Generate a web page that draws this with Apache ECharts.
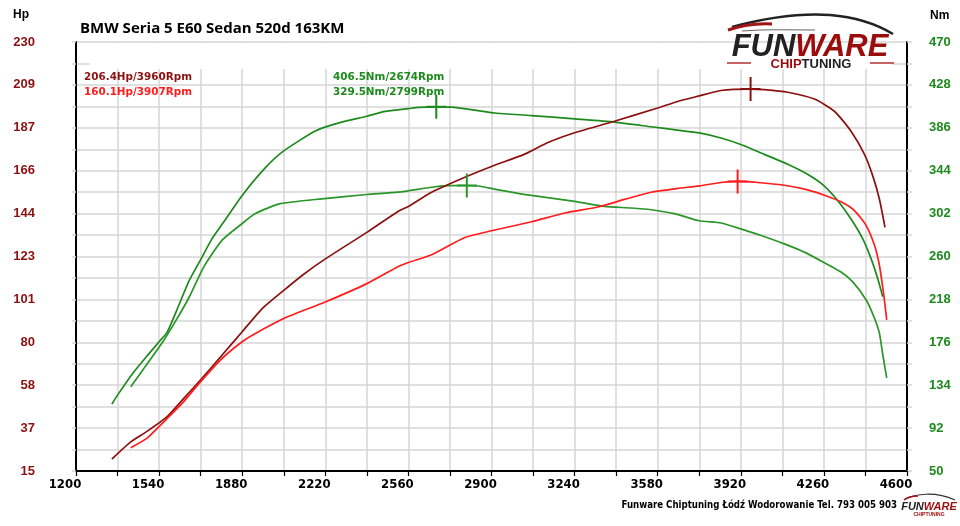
<!DOCTYPE html>
<html>
<head>
<meta charset="utf-8">
<script src="https://cdn.jsdelivr.net/npm/echarts@6/dist/echarts.min.js"></script>
<style>
html,body{margin:0;padding:0;background:#fff;}
#chart{width:960px;height:526px;}
</style>
</head>
<body>
<div id="chart"></div>
<script>
// ---- data ----
const title = 'BMW Seria 5 E60 Sedan 520d 163KM';
const footer = 'Funware Chiptuning Łódź Wodorowanie Tel. 793 005 903';

const rpmTicks = [1200, 1540, 1880, 2220, 2560, 2900, 3240, 3580, 3920, 4260, 4600];
const hpTicks = [15, 37, 58, 80, 101, 123, 144, 166, 187, 209, 230];
const nmTicks = [50, 92, 134, 176, 218, 260, 302, 344, 386, 428, 470];

const tunedHpRpm = [1347, 1424, 1492, 1574, 1642, 1710, 1798, 1880, 1962, 2050, 2125, 2220, 2390, 2519, 2560, 2655, 2791, 2900, 3036, 3131, 3240, 3403, 3580, 3661, 3750, 3839, 3960, 4016, 4112, 4221, 4303, 4371, 4426, 4460, 4487, 4510];
const tunedHp = [21, 29.6, 35, 42.4, 51.5, 60.7, 73.1, 84.8, 96.4, 105.5, 113, 121.3, 134.6, 145.2, 147.6, 154.7, 162.2, 167.6, 173.8, 179.6, 184.5, 190.3, 196.9, 200.2, 203, 205.7, 206.4, 206.1, 204.8, 201.4, 195.3, 185.3, 173.7, 162.9, 151.3, 137.1];

const stockHpRpm = [1424, 1492, 1554, 1635, 1710, 1798, 1880, 1934, 2050, 2220, 2390, 2519, 2560, 2655, 2791, 2900, 3063, 3199, 3335, 3444, 3553, 3661, 3750, 3839, 3907, 3989, 4098, 4193, 4262, 4330, 4385, 4433, 4467, 4487, 4505, 4517];
const stockHp = [26.6, 31.6, 39, 49, 59.8, 71.5, 79.8, 83.9, 91.4, 99.7, 108.9, 117.5, 119.5, 123.4, 132, 135.4, 139.9, 144.3, 147.3, 151.1, 154.7, 156.6, 157.9, 159.6, 160.1, 159.6, 158.2, 155.9, 153.2, 149.9, 145.5, 138, 128.1, 118.1, 103.2, 90.7];

const tunedNmRpm = [1347, 1370, 1431, 1492, 1540, 1574, 1622, 1662, 1710, 1758, 1805, 1880, 1975, 2050, 2179, 2261, 2390, 2465, 2560, 2601, 2674, 2737, 2818, 2914, 3063, 3240, 3403, 3553, 3661, 3750, 3839, 3920, 4016, 4112, 4193, 4262, 4317, 4371, 4419, 4453, 4480, 4501];
const tunedNm = [115.6, 124.3, 145.3, 163, 176.6, 186.3, 213, 236, 257, 278, 294, 319.8, 347, 363.4, 382.8, 389.9, 397.3, 402, 404.7, 406, 406.5, 406.2, 403.8, 400.5, 398, 394.7, 391.5, 387, 383.7, 381, 376, 369.6, 360, 350.3, 340.5, 329, 314.6, 296.7, 277.3, 257.9, 238.4, 220.6];

const stockNmRpm = [1424, 1472, 1554, 1608, 1662, 1724, 1798, 1880, 1934, 2036, 2206, 2390, 2519, 2655, 2723, 2799, 2846, 2927, 3063, 3240, 3362, 3471, 3553, 3648, 3750, 3839, 3920, 4003, 4098, 4180, 4262, 4330, 4378, 4433, 4467, 4487, 4501, 4517];
const stockNm = [132.4, 148.5, 176, 197, 219.6, 250.3, 276, 292.3, 302, 311.7, 316.5, 320.7, 323, 327.8, 329.3, 329.5, 329, 325.3, 319.8, 314, 309, 307.5, 305.8, 302, 295, 292.8, 287, 280.6, 272.4, 264.3, 253.9, 244.8, 235.2, 217.4, 199.5, 185, 163.8, 141.1];

const peakTunedHp = {val: 206.4, rpm: 3960};
const peakStockHp = {val: 160.1, rpm: 3907};
const peakTunedNm = {val: 406.5, rpm: 2674};
const peakStockNm = {val: 329.5, rpm: 2799};

// ---- styles ----
const C_DARKRED = '#8b1111';
const C_RED = '#ff1c1c';
const C_GREEN1 = '#1d8a1d';
const C_GREEN2 = '#2a962a';
const GRID_C = '#d6d6d6';
const NARROW = '"DejaVu Sans Condensed", "Liberation Sans", sans-serif';
const crossPath = 'path://M9,0 h2 v24 h-2 z M0,11 h20 v2 h-20 z';

function pairs(xs, ys) { return xs.map((x, i) => [x, ys[i]]); }

function lineSeries(name, xs, ys, yIdx, color, peak) {
  return {
    name: name, type: 'line', xAxisIndex: 0, yAxisIndex: yIdx,
    data: pairs(xs, ys), showSymbol: false, smooth: 0.2,
    lineStyle: {color: color, width: 1.7}, itemStyle: {color: color},
    z: 3,
    markPoint: {
      symbol: crossPath, symbolSize: [20, 24], silent: true,
      itemStyle: {color: color},
      label: {show: false},
      data: [{coord: [peak.rpm, peak.val]}]
    }
  };
}

function curve(x1, y1, cx1, cy1, cx2, cy2, x2, y2, color, w) {
  return {type: 'bezierCurve', z: 5, silent: true,
    shape: {x1: x1, y1: y1, cpx1: cx1, cpy1: cy1, cpx2: cx2, cpy2: cy2, x2: x2, y2: y2},
    style: {fill: null, stroke: color, lineWidth: w}};
}

const chart = echarts.init(document.getElementById('chart'), null, {renderer: 'canvas'});
const nX = (rpmTicks.length - 1) * 2;
const nY = (hpTicks.length - 1) * 2;

chart.setOption({
  animation: false,
  backgroundColor: '#ffffff',
  grid: {left: 76, right: 53, top: 42, bottom: 55},
  xAxis: [
    {type: 'value', min: rpmTicks[0], max: rpmTicks[rpmTicks.length - 1], show: false},
    {type: 'value', min: 0, max: nX, interval: 1, position: 'bottom',
     axisLine: {show: true, onZero: false, lineStyle: {color: '#000', width: 2}},
     axisTick: {show: true, length: 5, lineStyle: {color: '#000', width: 1.2}},
     splitLine: {show: true, lineStyle: {color: GRID_C, width: 1.5}},
     axisLabel: {
       margin: 7, color: '#000', fontFamily: NARROW, fontWeight: 'bold', fontSize: 13,
       padding: [0, 22, 0, 0],
       formatter: v => (v % 2 === 0 ? String(rpmTicks[v / 2]) : '')
     }}
  ],
  yAxis: [
    {type: 'value', min: hpTicks[0], max: hpTicks[hpTicks.length - 1], show: false},
    {type: 'value', min: nmTicks[0], max: nmTicks[nmTicks.length - 1], show: false},
    {type: 'value', min: 0, max: nY, interval: 1, position: 'left',
     axisLine: {show: true, onZero: false, lineStyle: {color: '#000', width: 2}},
     axisTick: {show: true, length: 4, lineStyle: {color: GRID_C, width: 1.5}},
     splitLine: {show: true, lineStyle: {color: GRID_C, width: 1.5}},
     axisLabel: {margin: 41, color: C_DARKRED, fontFamily: 'Liberation Sans', fontWeight: 'bold', fontSize: 13,
       formatter: v => (v % 2 === 0 ? String(hpTicks[v / 2]) : '')}},
    {type: 'value', min: 0, max: nY, interval: 1, position: 'right',
     axisLine: {show: true, onZero: false, lineStyle: {color: '#000', width: 2}},
     axisTick: {show: true, length: 5, lineStyle: {color: GRID_C, width: 1.5}},
     splitLine: {show: false},
     axisLabel: {margin: 22, color: C_GREEN1, fontFamily: 'Liberation Sans', fontWeight: 'bold', fontSize: 13,
       formatter: v => (v % 2 === 0 ? String(nmTicks[v / 2]) : '')}}
  ],
  series: [
    lineSeries('Nm tuned', tunedNmRpm, tunedNm, 1, C_GREEN1, peakTunedNm),
    lineSeries('Nm stock', stockNmRpm, stockNm, 1, C_GREEN2, peakStockNm),
    lineSeries('Hp tuned', tunedHpRpm, tunedHp, 0, C_DARKRED, peakTunedHp),
    lineSeries('Hp stock', stockHpRpm, stockHp, 0, C_RED, peakStockHp)
  ],
  graphic: [
    // white band at top of plot
    {type: 'rect', z: 1, silent: true, shape: {x: 90, y: 43, width: 802, height: 26}, style: {fill: '#fff'}},
    // axis unit labels
    {type: 'text', x: 13, y: 15, style: {text: 'Hp', fill: '#000', font: 'bold 12px "Liberation Sans"', textVerticalAlign: 'middle'}},
    {type: 'text', x: 930, y: 16, style: {text: 'Nm', fill: '#000', font: 'bold 12px "Liberation Sans"', textVerticalAlign: 'middle'}},
    // title
    {type: 'text', x: 80, y: 29, style: {text: title, fill: '#000', font: 'bold 15px "Open Sans"', textVerticalAlign: 'middle'}},
    // peak legends
    {type: 'text', z: 5, x: 84, y: 77, style: {text: peakTunedHp.val.toFixed(1) + 'Hp/' + peakTunedHp.rpm + 'Rpm', fill: C_DARKRED, font: 'bold 10.4px "DejaVu Sans"', textVerticalAlign: 'middle'}},
    {type: 'text', z: 5, x: 84, y: 92, style: {text: peakStockHp.val.toFixed(1) + 'Hp/' + peakStockHp.rpm + 'Rpm', fill: C_RED, font: 'bold 10.4px "DejaVu Sans"', textVerticalAlign: 'middle'}},
    {type: 'text', z: 5, x: 333, y: 77, style: {text: peakTunedNm.val.toFixed(1) + 'Nm/' + peakTunedNm.rpm + 'Rpm', fill: C_GREEN1, font: 'bold 10.4px "DejaVu Sans"', textVerticalAlign: 'middle'}},
    {type: 'text', z: 5, x: 333, y: 92, style: {text: peakStockNm.val.toFixed(1) + 'Nm/' + peakStockNm.rpm + 'Rpm', fill: C_GREEN1, font: 'bold 10.4px "DejaVu Sans"', textVerticalAlign: 'middle'}},
    // logo car swoosh
    curve(732, 27, 765, 18, 800, 13, 830, 15, '#222', 2.5),
    curve(830, 15, 855, 17, 878, 25, 893, 34, '#222', 2.5),
    curve(728, 30, 740, 26, 755, 23, 772, 24, '#a01414', 3),
    curve(742, 31, 765, 29, 792, 30, 815, 30, '#666', 1),
    {type: 'text', z: 5, x: 810, y: 47, style: {
      text: '{a|FUN}{b|WARE}', textAlign: 'center', textVerticalAlign: 'middle',
      rich: {
        a: {fill: '#222', font: 'italic 900 31px "Liberation Sans"'},
        b: {fill: '#9b0d0d', font: 'italic 900 31px "Liberation Sans"'}
      }}},
    {type: 'text', z: 5, x: 811, y: 64, style: {
      text: '{a|CHIP}{b|TUNING}', textAlign: 'center', textVerticalAlign: 'middle',
      rich: {
        a: {fill: '#9b0d0d', font: 'bold 13px "Liberation Sans"'},
        b: {fill: '#222', font: 'bold 13px "Liberation Sans"'}
      }}},
    {type: 'line', z: 5, shape: {x1: 727, y1: 63, x2: 751, y2: 63}, style: {stroke: '#b03030', lineWidth: 1.5}},
    {type: 'line', z: 5, shape: {x1: 870, y1: 63, x2: 894, y2: 63}, style: {stroke: '#b03030', lineWidth: 1.5}},
    // footer
    {type: 'text', x: 897, y: 505, style: {text: footer, fill: '#000', font: 'bold 9.6px ' + NARROW, textAlign: 'right', textVerticalAlign: 'middle'}},
    // mini logo
    curve(905, 499, 915, 494, 935, 491, 955, 500, '#333', 1.2),
    curve(904, 500, 908, 497, 913, 496, 918, 496, '#a01414', 1.5),
    {type: 'text', x: 929, y: 507, style: {
      text: '{a|FUN}{b|WARE}', textAlign: 'center', textVerticalAlign: 'middle',
      rich: {a: {fill: '#222', font: 'italic 900 11px "Liberation Sans"'}, b: {fill: '#9b0d0d', font: 'italic 900 11px "Liberation Sans"'}}}},
    {type: 'text', x: 929, y: 515, style: {text: 'CHIPTUNING', fill: '#9b0d0d', font: 'bold 5px "Liberation Sans"', textAlign: 'center', textVerticalAlign: 'middle'}}
  ]
});
</script>
</body>
</html>
